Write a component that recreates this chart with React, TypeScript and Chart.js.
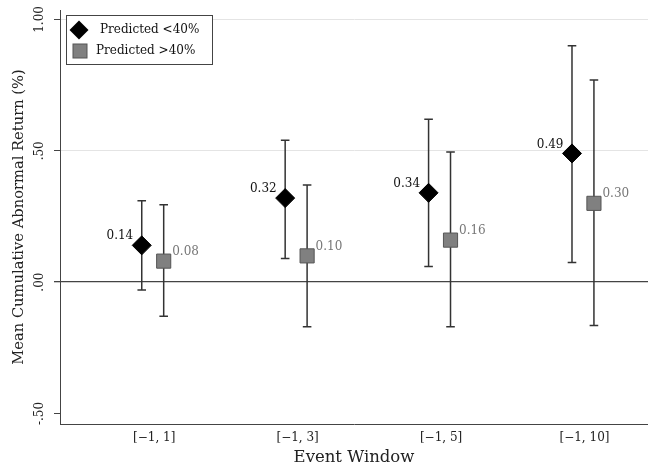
import React, { useEffect, useRef } from "react";
import { Chart, registerables } from "chart.js";
Chart.register(...registerables);

const categories = ["[\u22121, 1]", "[\u22121, 3]", "[\u22121, 5]", "[\u22121, 10]"];
const tickPositions = [1.087, 2.087, 3.087, 4.087];
const lowPos = [1, 2, 3, 4];
const highPos = [1.153, 2.153, 3.153, 4.153];
const lowMean = [0.14, 0.32, 0.34, 0.49];
const lowLower = [-0.03, 0.09, 0.06, 0.075];
const lowUpper = [0.31, 0.54, 0.62, 0.9];
const highMean = [0.08, 0.1, 0.16, 0.3];
const highLower = [-0.13, -0.17, -0.17, -0.165];
const highUpper = [0.295, 0.37, 0.495, 0.77];
const yTicks = [-0.5, 0, 0.5, 1];
const yTickLabels = ["-.50", ".00", ".50", "1.00"];
const seriesNames = ["Predicted <40%", "Predicted >40%"];

const FONT = "'DejaVu Serif', serif";
const lowers = [lowLower, highLower];
const uppers = [lowUpper, highUpper];

const errorBarPlugin = {
  id: "errorBars",
  beforeDatasetsDraw(chart: any) {
    const { ctx, scales } = chart;
    const xs = scales.x;
    const ys = scales.y;
    ctx.save();
    ctx.strokeStyle = "#333";
    ctx.lineWidth = 1.5;
    chart.data.datasets.forEach((ds: any, i: number) => {
      ds.data.forEach((pt: any, j: number) => {
        const x = xs.getPixelForValue(pt.x);
        const y1 = ys.getPixelForValue(lowers[i][j]);
        const y2 = ys.getPixelForValue(uppers[i][j]);
        ctx.beginPath();
        ctx.moveTo(x, y1);
        ctx.lineTo(x, y2);
        ctx.moveTo(x - 4.3, y1);
        ctx.lineTo(x + 4.3, y1);
        ctx.moveTo(x - 4.3, y2);
        ctx.lineTo(x + 4.3, y2);
        ctx.stroke();
      });
    });
    ctx.restore();
  },
};

const valueLabelPlugin = {
  id: "valueLabels",
  afterDatasetsDraw(chart: any) {
    const { ctx } = chart;
    ctx.save();
    ctx.font = "12px " + FONT;
    ctx.textBaseline = "middle";
    chart.data.datasets.forEach((ds: any, i: number) => {
      const meta = chart.getDatasetMeta(i);
      meta.data.forEach((el: any, j: number) => {
        const v = ds.data[j].y.toFixed(2);
        if (i === 0) {
          ctx.fillStyle = "#111";
          ctx.textAlign = "right";
          ctx.fillText(v, el.x - 8.5, el.y - 9);
        } else {
          ctx.fillStyle = "#777";
          ctx.textAlign = "left";
          ctx.fillText(v, el.x + 8.5, el.y - 9);
        }
      });
    });
    ctx.restore();
  },
};

const legendPlugin = {
  id: "boxLegend",
  afterDraw(chart: any) {
    const { ctx, chartArea } = chart;
    const bx = chartArea.left + 6;
    const by = chartArea.top + 5;
    ctx.save();
    ctx.fillStyle = "#fff";
    ctx.strokeStyle = "#444";
    ctx.lineWidth = 1;
    ctx.fillRect(bx, by, 146, 49);
    ctx.strokeRect(bx + 0.5, by + 0.5, 146, 49);
    const dx = bx + 13, dy = by + 15, r = 9.5;
    ctx.fillStyle = "#000";
    ctx.beginPath();
    ctx.moveTo(dx - r, dy);
    ctx.lineTo(dx, dy - r);
    ctx.lineTo(dx + r, dy);
    ctx.lineTo(dx, dy + r);
    ctx.closePath();
    ctx.fill();
    const sx = bx + 14, sy = by + 36, h = 7;
    ctx.fillStyle = "#808080";
    ctx.strokeStyle = "#555";
    ctx.fillRect(sx - h, sy - h, 2 * h, 2 * h);
    ctx.strokeRect(sx - h, sy - h, 2 * h, 2 * h);
    ctx.fillStyle = "#111";
    ctx.font = "12px " + FONT;
    ctx.textAlign = "left";
    ctx.textBaseline = "middle";
    ctx.fillText(seriesNames[0], bx + 34, dy);
    ctx.fillText(seriesNames[1], bx + 30, sy);
    ctx.restore();
  },
};

export default function App() {
  const ref = useRef<HTMLCanvasElement>(null);
  useEffect(() => {
    if (!ref.current) return;
    Chart.defaults.font.family = FONT;
    const chart = new Chart(ref.current, {
      type: "scatter",
      data: {
        datasets: [
          {
            label: seriesNames[0],
            data: lowPos.map((x, i) => ({ x, y: lowMean[i] })),
            pointStyle: "rectRot",
            pointRadius: 9.5,
            pointHoverRadius: 9.5,
            backgroundColor: "#000",
            borderColor: "#000",
            borderWidth: 1,
          },
          {
            label: seriesNames[1],
            data: highPos.map((x, i) => ({ x, y: highMean[i] })),
            pointStyle: "rect",
            pointRadius: 10,
            pointHoverRadius: 10,
            backgroundColor: "#808080",
            borderColor: "#555",
            borderWidth: 1,
          },
        ],
      },
      options: {
        animation: false,
        responsive: true,
        maintainAspectRatio: false,
        layout: { autoPadding: false, padding: { top: 10, left: 0, right: 0, bottom: 0 } },
        plugins: { legend: { display: false }, tooltip: { enabled: false } },
        scales: {
          x: {
            type: "linear",
            min: 0.43,
            max: 4.53,
            afterBuildTicks: (s: any) => {
              s.ticks = tickPositions.map((v) => ({ value: v }));
            },
            afterFit: (s: any) => {
              s.height = 47;
              s.paddingLeft = 0;
              s.paddingRight = 0;
            },
            ticks: {
              autoSkip: false,
              maxRotation: 0,
              padding: 7,
              color: "#222",
              font: { size: 12, family: FONT },
              callback: (v: any, i: number) => categories[i],
            },
            grid: { display: false, drawTicks: false },
            border: { display: true, color: "#444", width: 1 },
            title: {
              display: true,
              text: "Event Window",
              color: "#222",
              font: { size: 16.5, family: FONT },
              padding: { top: 0, bottom: 3.5 },
            },
          },
          y: {
            type: "linear",
            min: -0.54,
            max: 1.036,
            afterBuildTicks: (s: any) => {
              s.ticks = yTicks.map((v) => ({ value: v }));
            },
            afterFit: (s: any) => {
              s.width = 60;
              s.paddingTop = 0;
              s.paddingBottom = 0;
            },
            ticks: {
              minRotation: 90,
              maxRotation: 90,
              crossAlign: "center",
              padding: 1,
              color: "#222",
              font: { size: 12, family: FONT },
              callback: (v: any) => {
                const k = yTicks.indexOf(v);
                return k >= 0 ? yTickLabels[k] : "";
              },
            },
            grid: {
              color: (c: any) => {
                const v = c.tick ? c.tick.value : null;
                if (v === 0) return "#444";
                if (v === -0.5) return "rgba(0,0,0,0)";
                return "#e4e4e4";
              },
              lineWidth: (c: any) => (c.tick && c.tick.value === 0 ? 1.3 : 1),
              tickColor: "#444",
              tickLength: 6,
              drawTicks: true,
            },
            border: { display: true, color: "#444", width: 1 },
            title: {
              display: true,
              text: "Mean Cumulative Abnormal Return (%)",
              color: "#222",
              font: { size: 14.7, family: FONT },
              padding: { top: 10, bottom: 0 },
            },
          },
        },
      },
      plugins: [errorBarPlugin, valueLabelPlugin, legendPlugin],
    } as any);
    return () => chart.destroy();
  }, []);
  return (
    <div style={{ position: "fixed", left: 0, top: 0, width: 648, height: 471, background: "#fff" }}>
      <canvas ref={ref} />
    </div>
  );
}
